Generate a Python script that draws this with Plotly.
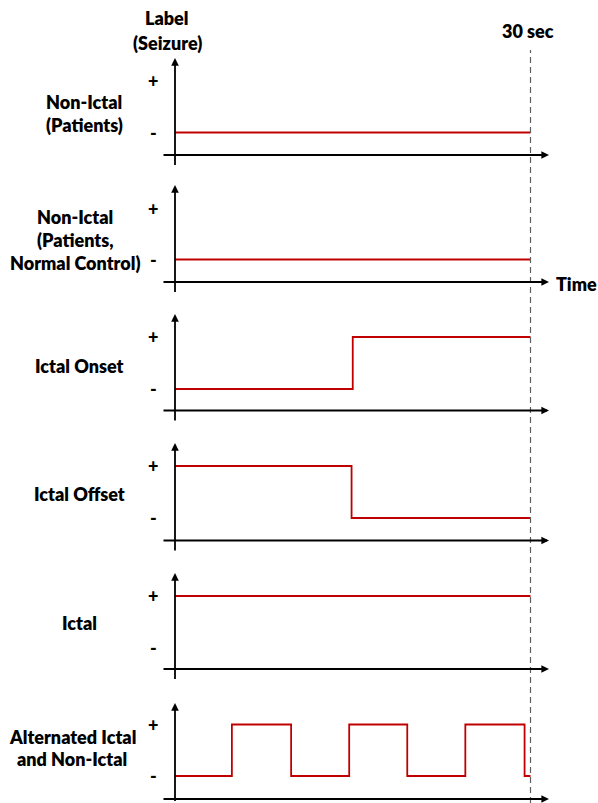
import plotly.graph_objects as go

# ---------------- data ----------------
panel_names = [
    ["Non-Ictal", "(Patients)"],
    ["Non-Ictal", "(Patients,", "Normal Control)"],
    ["Ictal Onset"],
    ["Ictal Offset"],
    ["Ictal"],
    ["Alternated Ictal", "and Non-Ictal"],
]
# time (sec) of each label change, label state (0 = "-", 1 = "+")
times_nonictal_pat = [0, 30]
state_nonictal_pat = [0, 0]
times_nonictal_ctrl = [0, 30]
state_nonictal_ctrl = [0, 0]
times_onset = [0, 15, 30]
state_onset = [0, 1, 1]
times_offset = [0, 14.9, 30]
state_offset = [1, 0, 0]
times_ictal = [0, 30]
state_ictal = [1, 1]
times_alt = [0, 4.8, 9.8, 14.7, 19.6, 24.5, 29.5, 30]
state_alt = [0, 1, 0, 1, 0, 1, 0, 0]
tick_labels = ["-", "+"]
window_sec = 30

series = [
    (times_nonictal_pat, state_nonictal_pat),
    (times_nonictal_ctrl, state_nonictal_ctrl),
    (times_onset, state_onset),
    (times_offset, state_offset),
    (times_ictal, state_ictal),
    (times_alt, state_alt),
]

# ---------------- layout geometry (screen pixels) ----------------
OFF = 0
SW, SH = 598, 803
W, H = SW - OFF, SH - OFF


def px_paper(sx):
    return (sx - OFF) / W


def py_paper(sy):
    return 1 - (sy - OFF) / H


X0PX, X30PX = 175, 530.5           # screen pixel of t=0 and t=30
pxs = (X30PX - X0PX) / 30.0
xr = [(OFF - X0PX) / pxs, (SW - X0PX) / pxs]


def sx_to_t(sx):
    return (sx - X0PX) / pxs


PLUS = [80.5, 208.5, 337, 466, 596, 724.5]
MINUS = [132.5, 259.5, 389, 518, 648, 776]
XAX = [155, 282, 410.5, 540.5, 669, 799]
TIP = [58, 185, 314, 443, 573, 703]
LABEL_Y = [[102, 125], [217, 240, 263], [366], [494], [623], [737, 759]]
LABEL_X = [84, 75, 79, 79, 79, 72]

FONT = "Lato"
FSIZE = 18
FW = 800
RED = "#C00000"

fig = go.Figure()
annotations = []
layout_axes = {}


def ypx_to_val(i, sy):
    u = MINUS[i] - PLUS[i]
    return (MINUS[i] - sy) / u


for i, (t, s) in enumerate(series):
    yname = "y" if i == 0 else f"y{i+1}"
    lname = "yaxis" if i == 0 else f"yaxis{i+1}"
    top = PLUS[i] - 30
    bot = min(XAX[i] + 12, SH)
    layout_axes[lname] = dict(
        domain=[py_paper(bot), py_paper(top)],
        range=[ypx_to_val(i, bot), ypx_to_val(i, top)],
        visible=False, anchor="x", fixedrange=True,
    )
    fig.add_trace(go.Scatter(
        x=t, y=s, mode="lines", line=dict(color=RED, width=1.8, shape="hv"),
        xaxis="x", yaxis=yname, hoverinfo="skip", showlegend=False,
    ))
    xa_val = ypx_to_val(i, XAX[i])
    # x axis arrow
    annotations.append(dict(
        x=sx_to_t(549), y=xa_val, ax=sx_to_t(162), ay=xa_val,
        xref="x", yref=yname, axref="x", ayref=yname, text="",
        showarrow=True, arrowhead=2, arrowsize=0.85, arrowwidth=1.8, arrowcolor="black",
    ))
    # y axis arrow
    annotations.append(dict(
        x=0, y=ypx_to_val(i, TIP[i]), ax=0, ay=ypx_to_val(i, bot - 0.5),
        xref="x", yref=yname, axref="x", ayref=yname, text="",
        showarrow=True, arrowhead=2, arrowsize=0.85, arrowwidth=1.8, arrowcolor="black",
    ))
    # +/- ticks
    for v, lab in enumerate(tick_labels):
        annotations.append(dict(
            x=sx_to_t(153), y=v, xref="x", yref=yname, text=lab,
            showarrow=False, xanchor="center", yanchor="middle",
            font=dict(family=FONT, size=FSIZE, color="black", weight=900),
        ))
    # panel label lines
    for line, sy in zip(panel_names[i], LABEL_Y[i]):
        annotations.append(dict(
            x=px_paper(LABEL_X[i]), y=py_paper(sy), xref="paper", yref="paper", text=line,
            showarrow=False, xanchor="center", yanchor="middle",
            font=dict(family=FONT, size=FSIZE, color="black", weight=FW),
        ))

# header texts
for txt, sx, sy, anchor, fs in [("Label", 167, 18, "center", FSIZE), ("(Seizure)", 167, 43, "center", FSIZE),
                                ("30 sec", 528, 31, "center", FSIZE), ("Time", 555, 284, "left", 18)]:
    annotations.append(dict(
        x=px_paper(sx), y=py_paper(sy), xref="paper", yref="paper", text=txt,
        showarrow=False, xanchor=anchor, yanchor="middle", borderpad=0,
        font=dict(family=FONT, size=fs, color="black", weight=FW),
    ))

shapes = [dict(
    type="line", xref="x", yref="paper", x0=window_sec, x1=window_sec,
    y0=0, y1=py_paper(50), line=dict(color="#606060", width=1.2, dash="6px,4px"),
)]

fig.update_layout(
    width=W, height=H, margin=dict(l=0, r=0, t=0, b=0),
    paper_bgcolor="white", plot_bgcolor="white", showlegend=False,
    xaxis=dict(domain=[0, 1], range=xr, visible=False, fixedrange=True, anchor="y"),
    annotations=annotations, shapes=shapes,
    **layout_axes,
)

fig.write_html(
    "out.html",
    config={"displayModeBar": False, "staticPlot": True},
    post_script="document.body.style.margin='0';document.body.style.overflow='hidden';",
)
